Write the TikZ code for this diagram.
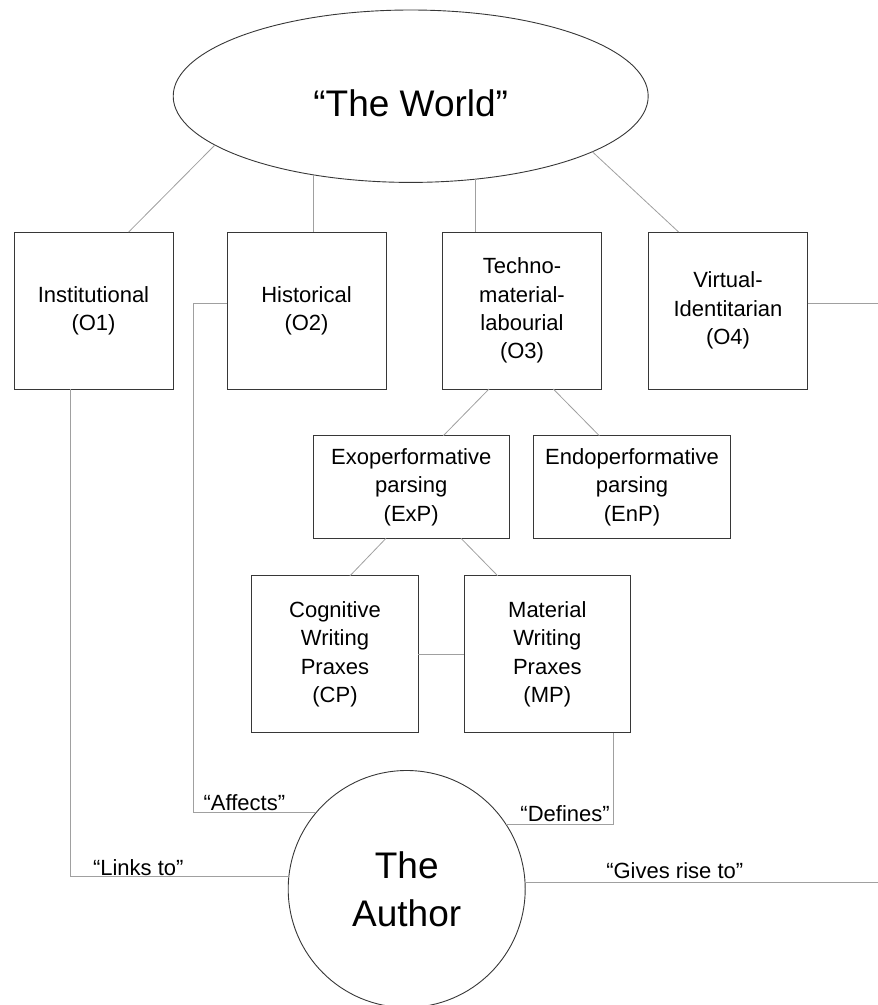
\documentclass[tikz,border=0pt]{standalone}
\usepackage{fontspec}
\setmainfont{Liberation Sans}
\usepackage{tikz}
\usetikzlibrary{shapes}
\newcommand\boxfont{\fontsize{22}{28.3}\selectfont}
\newcommand\headfont{\fontsize{37}{47.7}\selectfont}
\definecolor{node_gray}{RGB}{55,55,55}
\definecolor{edge_gray}{RGB}{160,160,160}

\begin{document}
\begin{tikzpicture}[x=1pt,y=-1pt,semithick]
    \tikzstyle{tag}=[text=black,font=\boxfont,inner sep=0pt]
    \tikzstyle{box}=[draw=node_gray,line width=0.9pt,minimum width=159pt,minimum height=157pt,align=center,font=\boxfont,inner sep=0pt,outer sep=0pt]
    \tikzstyle{boxparse}=[style=box,minimum width=196.3pt,minimum height=102.6pt]
    \tikzstyle{boxpraxis}=[style=box,minimum width=166.6pt]
    \tikzstyle{world}=[draw=node_gray,line width=0.9pt,ellipse,minimum width=475pt,minimum height=172.4pt,font=\headfont,text height=41pt,text depth=0pt,inner sep=0pt,outer sep=0pt]
    \tikzstyle{author}=[draw=node_gray,line width=0.9pt,circle,minimum size=237pt,align=center,font=\headfont,inner sep=0pt,outer sep=0pt]
    \tikzstyle{link}=[draw=edge_gray,line width=0.8pt]

    \useasboundingbox (0,0) rectangle (878,1005);

    \node[world]     (W)   at (410.7,96.2)  {“The World”};
    \node[box]       (O1)  at (93.5,310.5)  {Institutional\\(O1)};
    \node[box]       (O2)  at (306.5,310.5) {Historical\\(O2)};
    \node[box]       (O3)  at (522,310.5)   {Techno-\\material-\\labourial\\(O3)};
    \node[box]       (O4)  at (728,310.5)   {Virtual-\\Identitarian\\(O4)};
    \node[boxparse]  (ExP) at (411.2,487)   {Exoperformative\\parsing\\(ExP)};
    \node[boxparse]  (EnP) at (632,487)     {Endoperformative\\parsing\\(EnP)};
    \node[boxpraxis] (CP)  at (335,654.3)   {Cognitive\\Writing\\Praxes\\(CP)};
    \node[boxpraxis] (MP)  at (547.3,654.3) {Material\\Writing\\Praxes\\(MP)};
    \node[author]    (A)   at (406.7,889)   {The\\Author};
    \coordinate      (rise) at (878,0);

    \path[link]
     (W.194.1) edge ([xshift=35.2pt]O1.north)
     (W.219.4) edge (W.219.4 |- O2.north)
     (W.308)   edge (W.308 |- O3.north)
     (W.343.7) edge ([xshift=-49.4pt]O4.north)
     ([xshift=-33pt]O3.south) edge ([xshift=32.1pt]ExP.north)
     ([xshift=31.3pt]O3.south) edge ([xshift=-32.7pt]EnP.north)
     ([xshift=-25.2pt]ExP.south) edge ([xshift=15pt]CP.north)
     ([xshift=49.8pt]ExP.south) edge ([xshift=-49.6pt]MP.north)
     (CP.east) edge (MP.west)
     ([yshift=6.8pt]O4.east) edge ([yshift=6.8pt]O4.east -| rise)
     (A.3.5) edge (A.3.5 -| rise);

    \draw[link] ([xshift=-23.5pt]O1.south) |- (A.174.5);
    \draw[link] ([yshift=6.8pt]O2.west) -- ++(-33.7,0) |- (A.140.3);
    \draw[link] ([xshift=66pt]MP.south) |- (A.33);

    \node[tag,anchor=base west] (tLinks)   at (92.7,875.7) {“Links to”};
    \node[tag,anchor=base west] (tAffects) at (203.3,810)  {“Affects”};
    \node[tag,anchor=base east] (tDefines) at (610,821)    {“Defines”};
    \node[tag,anchor=base west] (tGives)   at (606,878.3)  {“Gives rise to”};
  \end{tikzpicture}
\end{document}
